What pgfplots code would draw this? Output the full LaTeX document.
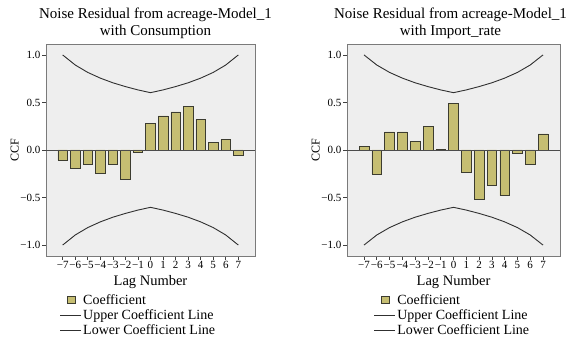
\documentclass[border=0pt]{standalone}
\usepackage{fontspec}
\setmainfont{Liberation Serif}
\usepackage{pgfplots}
\usepackage{pgfplotstable}
\pgfplotsset{compat=1.18}

\definecolor{panelbg}{HTML}{EEEEEE}
\definecolor{framegray}{HTML}{7A7A7A}
\definecolor{barfill}{HTML}{C6BE72}
\definecolor{baredge}{HTML}{3C3C30}
\definecolor{limitline}{HTML}{303030}

% cross-correlation coefficients of the noise residual, by lag
\pgfplotstableread{
lag  consumption importrate
-7   -0.11        0.04
-6   -0.19       -0.25
-5   -0.15        0.19
-4   -0.24        0.19
-3   -0.15        0.09
-2   -0.31        0.25
-1   -0.02        0.006
 0    0.28        0.49
 1    0.36       -0.235
 2    0.40       -0.515
 3    0.46       -0.37
 4    0.32       -0.48
 5    0.08       -0.03
 6    0.11       -0.15
 7   -0.06        0.17
}\ccfdata

% confidence limits
\pgfplotstableread{
lag  upper  lower
-7   1.000 -1.000
-6   0.894 -0.894
-5   0.816 -0.816
-4   0.756 -0.756
-3   0.707 -0.707
-2   0.667 -0.667
-1   0.632 -0.632
 0   0.603 -0.603
 1   0.632 -0.632
 2   0.667 -0.667
 3   0.707 -0.707
 4   0.756 -0.756
 5   0.816 -0.816
 6   0.894 -0.894
 7   1.000 -1.000
}\ccflimits

\pgfplotsset{
  ccfpanel/.style={
    scale only axis,
    height=212pt,
    xmin=-8.33, xmax=8.33, ymin=-1.115, ymax=1.115,
    axis background/.style={fill=panelbg},
    axis line style={framegray, line width=0.8pt},
    xtick={-7,...,7},
    xticklabels={−7,−6,−5,−4,−3,−2,−1,0,1,2,3,4,5,6,7},
    ytick={-1,-0.5,0,0.5,1},
    yticklabels={−1.0,−0.5,0.0,0.5,1.0},
    xtick pos=bottom, ytick pos=left,
    tick align=outside,
    major tick length=4pt,
    tick style={black!75, line width=0.6pt},
    /pgf/number format/assume math mode=true,
    ticklabel style={font=\fontsize{11}{12}\selectfont},
    xticklabel style={inner sep=1pt},
    yticklabel style={inner sep=1.5pt},
    xlabel={Lag Number},
    xlabel style={font=\fontsize{14.5}{16}\selectfont, inner sep=0pt, yshift=-6pt},
    ylabel={CCF},
    ylabel style={font=\fontsize{12}{13}\selectfont, inner sep=0pt},
    title style={align=center, font=\fontsize{15}{17}\selectfont, inner sep=0pt, anchor=south, yshift=-1pt},
    legend cell align=left,
    legend style={draw=none, fill=none, anchor=north west,
      font=\fontsize{14}{15}\selectfont,
      inner sep=0pt, row sep=1pt,
      nodes={inner sep=1.5pt}},
  },
  coefbars/.style={ybar, bar width=0.76, fill=barfill, draw=baredge, line width=0.5pt,
    legend image code/.code={\draw[fill=barfill, draw=baredge, line width=0.5pt] (0.25cm,-0.13cm) rectangle (0.52cm,0.14cm);}},
  limitcurve/.style={limitline, line width=0.9pt, no markers,
    legend image code/.code={\draw[limitline, line width=0.9pt] (0cm,0cm) -- (0.74cm,0cm);}},
  zeroline/.style={black!70, line width=0.9pt, forget plot},
}

\begin{document}
\begin{tikzpicture}[x=1pt, y=1pt]
\useasboundingbox (0,0) rectangle (566,340);

\begin{axis}[ccfpanel, width=209pt, at={(46pt,84pt)}, anchor=south west,
    title={Noise Residual from acreage-Model\_1\\with Consumption},
    title style={xshift=5pt},
    legend style={at={(axis description cs:0.065,-0.172)}}]
  \addplot[coefbars] table[x=lag, y=consumption] {\ccfdata};
  \addlegendentry{Coefficient}
  \addplot[limitcurve] table[x=lag, y=upper] {\ccflimits};
  \addlegendentry{Upper Coefficient Line}
  \addplot[limitcurve] table[x=lag, y=lower] {\ccflimits};
  \addlegendentry{Lower Coefficient Line}
  \addplot[zeroline] coordinates {(-8.33,0) (8.33,0)};
\end{axis}

\begin{axis}[ccfpanel, width=213pt, at={(347pt,84pt)}, anchor=south west,
    title={Noise Residual from acreage-Model\_1\\with Import\_rate},
    title style={xshift=-3pt},
    legend style={at={(axis description cs:0.125,-0.172)}}]
  \addplot[coefbars] table[x=lag, y=importrate] {\ccfdata};
  \addlegendentry{Coefficient}
  \addplot[limitcurve] table[x=lag, y=upper] {\ccflimits};
  \addlegendentry{Upper Coefficient Line}
  \addplot[limitcurve] table[x=lag, y=lower] {\ccflimits};
  \addlegendentry{Lower Coefficient Line}
  \addplot[zeroline] coordinates {(-8.33,0) (8.33,0)};
\end{axis}
\end{tikzpicture}
\end{document}
